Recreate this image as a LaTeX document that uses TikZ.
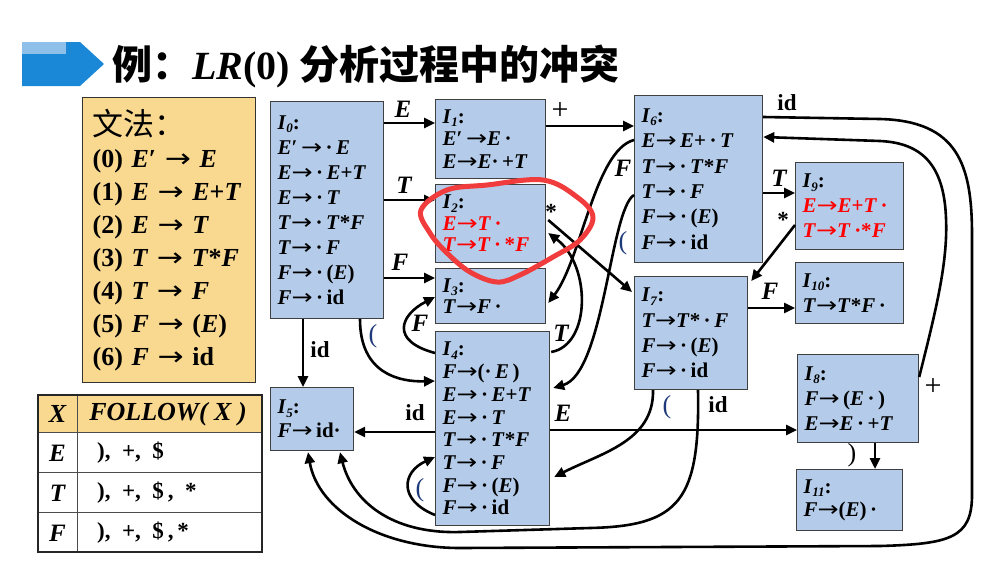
\documentclass[tikz,border=0pt]{standalone}
\usepackage{fontspec}
\setmainfont{Liberation Serif}
\newfontfamily\cjk{Noto Sans CJK SC}
\newfontfamily\arfont{DejaVu Sans}
\usetikzlibrary{arrows.meta,calc}
\definecolor{stfill}{HTML}{B4CCEA}
\definecolor{gfill}{HTML}{F9D890}
\definecolor{navy}{HTML}{1F3A7A}
\definecolor{chev}{HTML}{1A88D6}
\definecolor{chevlt}{HTML}{8EC0EA}
\definecolor{circred}{HTML}{F03C3C}
\newcommand\xE{\textit{E}}
\newcommand\xT{\textit{T}}
\newcommand\xF{\textit{F}}
\newcommand\arw{\scalebox{1.2}[1]{\arfont\mdseries\upshape →}}
\newcommand\xI[1]{\textit{I}\raisebox{-0.35ex}{\fontsize{13}{13}\selectfont\textit{#1}}}
\newcommand\xR[1]{\textcolor{red}{#1}}
\begin{document}
\begin{tikzpicture}[x=1pt,y=-1pt,
  state/.style={draw=black!75, line width=1.2pt, fill=stfill, anchor=north west,
    inner xsep=7pt, inner ysep=0pt, align=left, font=\fontsize{21}{25}\selectfont\bfseries},
  edge/.style={line width=2.6pt, -{Triangle[length=11pt,width=10pt]}},
  lab/.style={font=\fontsize{25}{25}\selectfont\bfseries\itshape, inner sep=0pt},
  labr/.style={font=\fontsize{23}{23}\selectfont\bfseries, inner sep=0pt},
  labp/.style={font=\fontsize{26}{26}\selectfont, text=navy, inner sep=0pt},
  labn/.style={font=\fontsize{30}{30}\selectfont, inner sep=0pt},
  cell/.style={font=\fontsize{23}{23}\selectfont\bfseries, inner sep=0pt}]
\useasboundingbox (0,0) rectangle (993,570);

% title
\fill[chev] (22,42) -- (80,42) -- (104,64) -- (80,86) -- (22,86) -- cycle;
\fill[chevlt] (22,42) rectangle (66,54);
\node[anchor=west, inner sep=0pt] (title) at (112,66)
  {\cjk\bfseries\fontsize{40}{40}\selectfont 例：{\rmfamily\bfseries\textit{LR}(0)} 分析过程中的冲突};

% grammar
\node[draw=black!80, line width=1.2pt, fill=gfill, anchor=north west, text width=153pt,
  minimum height=285pt, inner xsep=10pt, align=left, font=\fontsize{26}{33}\selectfont\bfseries]
  (gram) at (82,97)
  {{\cjk\mdseries\fontsize{31}{33}\selectfont 文法：}\\[-1pt]
   (0) \xE′ \arw\ \xE\\ (1) \xE\ \arw\ \xE+\xT\\ (2) \xE\ \arw\ \xT\\ (3) \xT\ \arw\ \xT*\xF\\
   (4) \xT\ \arw\ \xF\\ (5) \xF\ \arw\ (\xE)\\ (6) \xF\ \arw\ id};

% FOLLOW table
\fill[gfill] (38,395) rectangle (262,432);
\draw[line width=1pt, black!70] (38,432) -- (262,432) (38,472) -- (262,472) (38,512) -- (262,512) (77,395) -- (77,552);
\draw[line width=1.5pt, black!85] (38,395) rectangle (262,552);
\node[cell, font=\fontsize{26}{26}\selectfont\bfseries\itshape] (hX) at (57.5,414) {X};
\node[cell, font=\fontsize{26}{26}\selectfont\bfseries\itshape] (hF) at (168,414) {FOLLOW( X )};
\node[cell, font=\fontsize{25}{25}\selectfont\bfseries\itshape] (rE) at (57.5,453) {E};
\node[cell, font=\fontsize{25}{25}\selectfont\bfseries\itshape] (rT) at (57.5,493) {T};
\node[cell, font=\fontsize{25}{25}\selectfont\bfseries\itshape] (rF) at (57.5,533) {F};
\node[cell, anchor=west] (vE) at (97,453) {),\ \ +,\ \ \$};
\node[cell, anchor=west] (vT) at (97,493) {),\ \ +,\ \ \$\,,\ \ *};
\node[cell, anchor=west] (vF) at (97,533) {),\ \ +,\ \ \$\,,\,*};

% states
\node[state, text width=99pt, minimum height=217pt] (I0) at (270,101)
  {\xI{0}:\\ \xE′\,\arw\,·\,\xE\\ \xE\arw\,·\,\xE+\xT\\ \xE\arw\,·\,\xT\\ \xT\arw\,·\,\xT*\xF\\ \xT\arw\,·\,\xF\\ \xF\arw\,·\,(\xE)\\ \xF\arw\,·\,id};
\node[state, text width=96pt, minimum height=79pt, font=\fontsize{21}{22.5}\selectfont\bfseries] (I1) at (435,99)
  {\xI{1}:\\ \xE′\,\arw\xE\,·\\ \xE\arw\xE·\,+\xT};
\node[state, text width=96pt, minimum height=78pt, font=\fontsize{21}{21.5}\selectfont\bfseries] (I2) at (435,184)
  {\xI{2}:\\ \xR{\xE\arw\xT\,·}\\ \xR{\xT\arw\xT\,·\,*\xF}};
\node[state, text width=96pt, minimum height=55pt, font=\fontsize{21}{21}\selectfont\bfseries] (I3) at (435,268)
  {\xI{3}:\\ \xT\arw\xF\,·};
\node[state, text width=100pt, minimum height=194pt, font=\fontsize{21}{22.7}\selectfont\bfseries] (I4) at (435,331)
  {\xI{4}:\\ \xF\arw(·\,\xE\,)\\ \xE\arw\,·\,\xE+\xT\\ \xE\arw\,·\,\xT\\ \xT\arw\,·\,\xT*\xF\\ \xT\arw\,·\,\xF\\ \xF\arw\,·\,(\xE)\\ \xF\arw\,·\,id};
\node[state, text width=69pt, minimum height=63pt, font=\fontsize{21}{24}\selectfont\bfseries] (I5) at (270,387)
  {\xI{5}:\\ \xF\arw\,id·};
\node[state, text width=114pt, minimum height=167pt, font=\fontsize{21}{25.4}\selectfont\bfseries] (I6) at (634,95)
  {\xI{6}:\\ \xE\arw\,\xE+\,·\,\xT\\ \xT\arw\,·\,\xT*\xF\\ \xT\arw\,·\,\xF\\ \xF\arw\,·\,(\xE)\\ \xF\arw\,·\,id};
\node[state, text width=99pt, minimum height=113pt, font=\fontsize{21}{25.3}\selectfont\bfseries] (I7) at (634,276)
  {\xI{7}:\\ \xT\arw\xT*\,·\,\xF\\ \xF\arw\,·\,(\xE)\\ \xF\arw\,·\,id};
\node[state, text width=107pt, minimum height=88pt] (I8) at (797,354)
  {\xI{8}:\\ \xF\arw\,(\xE\,·\,)\\ \xE\arw\xE\,·\,+\xT};
\node[state, text width=94pt, minimum height=87pt] (I9) at (795,162)
  {\xI{9}:\\ \xR{\xE\arw\xE+\xT\,·}\\ \xR{\xT\arw\xT\,·*\xF}};
\node[state, text width=94pt, minimum height=61pt] (I10) at (795,262)
  {\xI{10}:\\ \xT\arw\xT*\xF\,·};
\node[state, text width=92pt, minimum height=61pt, font=\fontsize{21}{23}\selectfont\bfseries] (I11) at (796,469)
  {\xI{11}:\\ \xF\arw(\xE)\,·};

% edges
\draw[edge] ($(I0.north east)+(0,22)$) -- ($(I1.north west)+(0,24)$);
\draw[edge] ($(I0.north east)+(0,99)$) -- ($(I2.north west)+(0,16)$);
\draw[edge] ($(I0.north east)+(0,177)$) -- ($(I3.north west)+(0,10)$);
\draw[edge] ($(I0.south west)+(33,0)$) -- ($(I5.north west)+(33,0)$);
\draw[edge] ($(I0.south west)+(90,0)$) .. controls +(0,55) and +(-35,1) .. ($(I4.north west)+(0,50)$);
\draw[edge] ($(I4.north west)+(0,22)$) .. controls +(-45,-12) and +(-35,18) .. ($(I3.north west)+(0,29)$);
\draw[edge] ($(I4.north east)+(1,21)$) .. controls +(40,-7) and +(43,32) .. ($(I2.north east)+(2,49)$);
\draw[edge] ($(I2.north east)+(2,36)$) -- ($(I7.north west)+(-2,16)$);
\draw[edge] ($(I6.north west)+(0,45)$) .. controls +(-39,10) and +(33,-43) .. ($(I3.north east)+(2,35)$);
\draw[edge] ($(I6.north west)+(0,100)$) .. controls +(-24,15) and +(51,-15) .. ($(I4.north east)+(3,57)$);
\draw[edge] ($(I1.north east)+(0,27)$) -- ($(I6.north west)+(0,31)$);
\draw[edge] ($(I6.north east)+(0,98)$) -- ($(I9.north west)+(0,31)$);
\draw[edge] ($(I9.north west)+(0,63)$) -- ($(I7.north east)+(3,5)$);
\draw[edge] ($(I7.north east)+(0,32)$) -- ($(I10.north west)+(0,46)$);
\draw[edge] ($(I4.north east)+(0,99)$) -- ($(I8.north west)+(0,76)$);
\draw[edge] ($(I7.south west)+(19,0)$) .. controls +(1,51) and +(47,-24) .. ($(I4.north east)+(4,146)$);
\draw[edge] ($(I7.south west)+(64,0)$) .. controls (700,500) and (680,526) .. (590,528) -- (460,532)
  .. controls (390,534) and (352,500) .. ($(I5.south west)+(70,1)$);
\draw[edge] ($(I6.north east)+(0,22)$) -- (880,119) .. controls (958,121) and (972,165) .. (972,235)
  -- (972,495) .. controls (972,538) and (950,544) .. (880,546) -- (460,548)
  .. controls (380,548) and (318,510) .. ($(I5.south west)+(38,1)$);
\draw[edge] ($(I8.north east)+(0,23)$) .. controls (936,310) and (948,262) .. (946,218)
  .. controls (944,165) and (922,143) .. (880,141) -- ($(I6.north east)+(0,42)$);
\draw[edge] ($(I4.north west)+(0,101)$) -- ($(I5.north east)+(0,45)$);
\draw[edge] ($(I4.north west)+(0,184)$) .. controls +(-37,-15) and +(-33,15) .. ($(I4.north west)+(0,126)$);
\draw[edge] ($(I8.south west)+(78,0)$) -- ($(I11.north west)+(79,0)$);

% labels
\node[lab] (l1) at (403,109) {E};
\node[lab] (l2) at (404,185) {T};
\node[lab] (l3) at (400,262) {F};
\node[labr] (l4) at (320,350) {id};
\node[labp] (l5) at (373,336) {(};
\node[lab] (l6) at (420,323) {F};
\node[lab] (l7) at (561,333) {T};
\node[labr] (l8) at (551,212) {*};
\node[lab] (l9) at (623,168) {F};
\node[labp] (l10) at (623,243) {(};
\node[labn] (l11) at (560,111) {+};
\node[labr] (l12) at (787,103) {id};
\node[lab] (l13) at (779,178) {T};
\node[labr] (l14) at (783,220) {*};
\node[lab] (l15) at (770,291) {F};
\node[labp] (l16) at (667,407) {(};
\node[labr] (l17) at (718,405) {id};
\node[lab] (l18) at (563,413) {E};
\node[labr] (l19) at (415,413) {id};
\node[labp] (l20) at (420,490) {(};
\node[labn, font=\fontsize{26}{26}\selectfont] (l21) at (852,455) {)};
\node[labn] (l22) at (933,387) {+};

% red hand-drawn circle
\draw[circred, line width=5pt, line join=round] plot[smooth cycle, tension=0.6] coordinates
  {(421,210) (447,190) (487,185) (543,180) (577,197) (593,217) (580,240) (553,257) (520,275) (497,282) (470,272) (447,253) (430,233)};
\end{tikzpicture}
\end{document}
